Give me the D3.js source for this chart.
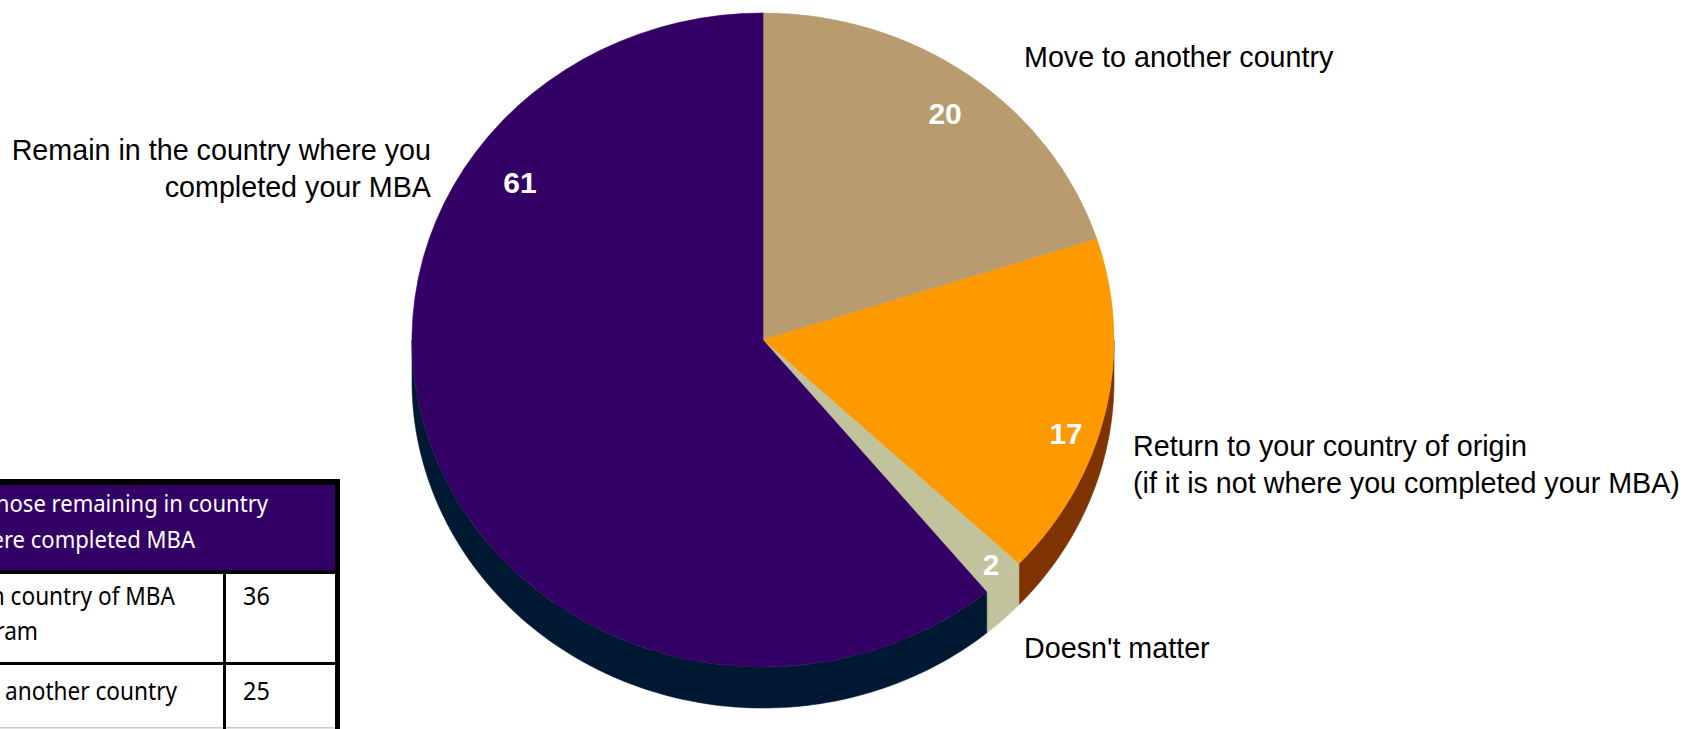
<!DOCTYPE html>
<html><head><meta charset="utf-8">
<script src="https://cdn.jsdelivr.net/npm/d3@7/dist/d3.min.js"></script>
<style>html,body{margin:0;padding:0;background:#fff;overflow:hidden}</style>
</head><body><svg id="chart" width="1697" height="729"></svg>
<script>
// ---------- data ----------
const categories = ["Move to another country",
  "Return to your country of origin (if it is not where you completed your MBA)",
  "Doesn't matter",
  "Remain in the country where you completed your MBA"];
const categoryLines = [["Move to another country"],
  ["Return to your country of origin", "(if it is not where you completed your MBA)"],
  ["Doesn't matter"],
  ["Remain in the country where you", "completed your MBA"]];
const values = [20, 17, 2, 61];
const topColors = ["#B89B6E", "#FF9900", "#C0C39C", "#330066"];
const sideColors = ["#7A5F33", "#7F3300", "#C0C39C", "#001933"];

const tableHeader = ["Of those remaining in country", "where completed MBA"];
const tableRowLabels = [["Work in country of MBA", "program"], ["Work in another country"]];
const tableValues = [36, 25];

// ---------- layout ----------
const W = 1697, H = 729;
const cx = 763, cy = 340, rx = 351, ry = 327, depth = 41;
const labelAngleShift = [0.8, 5.6, -0.3, 54.7];      // degrees
const labelRadius = [0.866, 0.909, 0.944, 0.844];
// category label anchors: [x, firstBaseline, anchor]
const catLayout = [[1024, 67, "start"], [1133, 456, "start"], [1024, 658, "start"], [431, 160, "end"]];
const catLineGap = 36.5;

const svg = d3.select("#chart");
const pie = d3.pie().sort(null).value(d => d);
const arcs = pie(values);
const pt = (a, dy = 0) => [cx + rx * Math.sin(a), cy - ry * Math.cos(a) + dy];

// side walls (visible lower half)
const sides = svg.append("g");
arcs.forEach((d, i) => {
  const a0 = Math.max(d.startAngle, Math.PI / 2), a1 = Math.min(d.endAngle, 3 * Math.PI / 2);
  if (a1 <= a0) return;
  const n = 120;
  const top = d3.range(n + 1).map(k => pt(a0 + (a1 - a0) * k / n));
  const bot = top.map(p => [p[0], p[1] + depth]).reverse();
  sides.append("path").attr("d", d3.line()(top.concat(bot)) + "Z")
    .attr("fill", sideColors[i]).attr("stroke", sideColors[i]).attr("stroke-width", 0.6);
});

// top faces
const arc = d3.arc().innerRadius(0).outerRadius(rx);
svg.append("g").attr("transform", `translate(${cx},${cy}) scale(1,${ry / rx})`)
  .selectAll("path").data(arcs).join("path")
  .attr("d", arc).attr("fill", (d, i) => topColors[i])
  .attr("stroke", (d, i) => topColors[i]).attr("stroke-width", 0.6);

// value labels
svg.append("g").selectAll("text").data(arcs).join("text")
  .each(function (d, i) {
    const a = (d.startAngle + d.endAngle) / 2 + labelAngleShift[i] * Math.PI / 180;
    const f = labelRadius[i];
    d3.select(this).attr("x", cx + f * rx * Math.sin(a)).attr("y", cy - f * ry * Math.cos(a));
  })
  .attr("dy", "0.36em").attr("text-anchor", "middle")
  .attr("font-family", "Liberation Sans, Arial, sans-serif").attr("font-weight", "bold")
  .attr("font-size", 30).attr("fill", "#fff")
  .text(d => d.data);

// category labels
categoryLines.forEach((lines, i) => {
  const [x, y, anchor] = catLayout[i];
  const t = svg.append("text").attr("x", x).attr("y", y).attr("text-anchor", anchor)
    .attr("font-family", "Liberation Sans, Arial, sans-serif").attr("font-size", 28.7).attr("fill", "#000");
  lines.forEach((l, k) => t.append("tspan").attr("x", x).attr("y", y + k * catLineGap).text(l));
});

// ---------- table (clipped at left edge) ----------
const tb = svg.append("g");
const tFont = "Noto Sans, Open Sans, sans-serif";
tb.append("rect").attr("x", -20).attr("y", 479).attr("width", 360).attr("height", 6).attr("fill", "#000");
tb.append("rect").attr("x", -20).attr("y", 485).attr("width", 355).attr("height", 85).attr("fill", "#330066");
tb.append("rect").attr("x", -20).attr("y", 570).attr("width", 360).attr("height", 4).attr("fill", "#000");
tb.append("rect").attr("x", -20).attr("y", 662).attr("width", 360).attr("height", 3).attr("fill", "#000");
tb.append("rect").attr("x", -20).attr("y", 727).attr("width", 355).attr("height", 1.5).attr("fill", "#c8c8c8");
tb.append("rect").attr("x", 223).attr("y", 574).attr("width", 3).attr("height", 160).attr("fill", "#000");
tb.append("rect").attr("x", 335).attr("y", 479).attr("width", 5).attr("height", 260).attr("fill", "#000");

function tText(x, y, str, size, color, anchor, sx) {
  tb.append("text").attr("transform", `translate(${x},${y}) scale(${sx},1)`)
    .attr("text-anchor", anchor).attr("font-family", tFont).attr("font-size", size)
    .attr("fill", color).text(str);
}
const headerEnds = [268, 195];
tableHeader.forEach((l, k) => tText(headerEnds[k], 512 + k * 36, l, 24.5, "#fff", "end", 0.9));

const rowLineEnds = [[175, 38], [177]];
const rowBase = [605, 700];
tableRowLabels.forEach((lines, r) => {
  lines.forEach((l, k) => tText(rowLineEnds[r][k], rowBase[r] + k * 35, l, 26, "#000", "end", 0.87));
  tText(243, rowBase[r], String(tableValues[r]), 26, "#000", "start", 0.9);
});
</script></body></html>
